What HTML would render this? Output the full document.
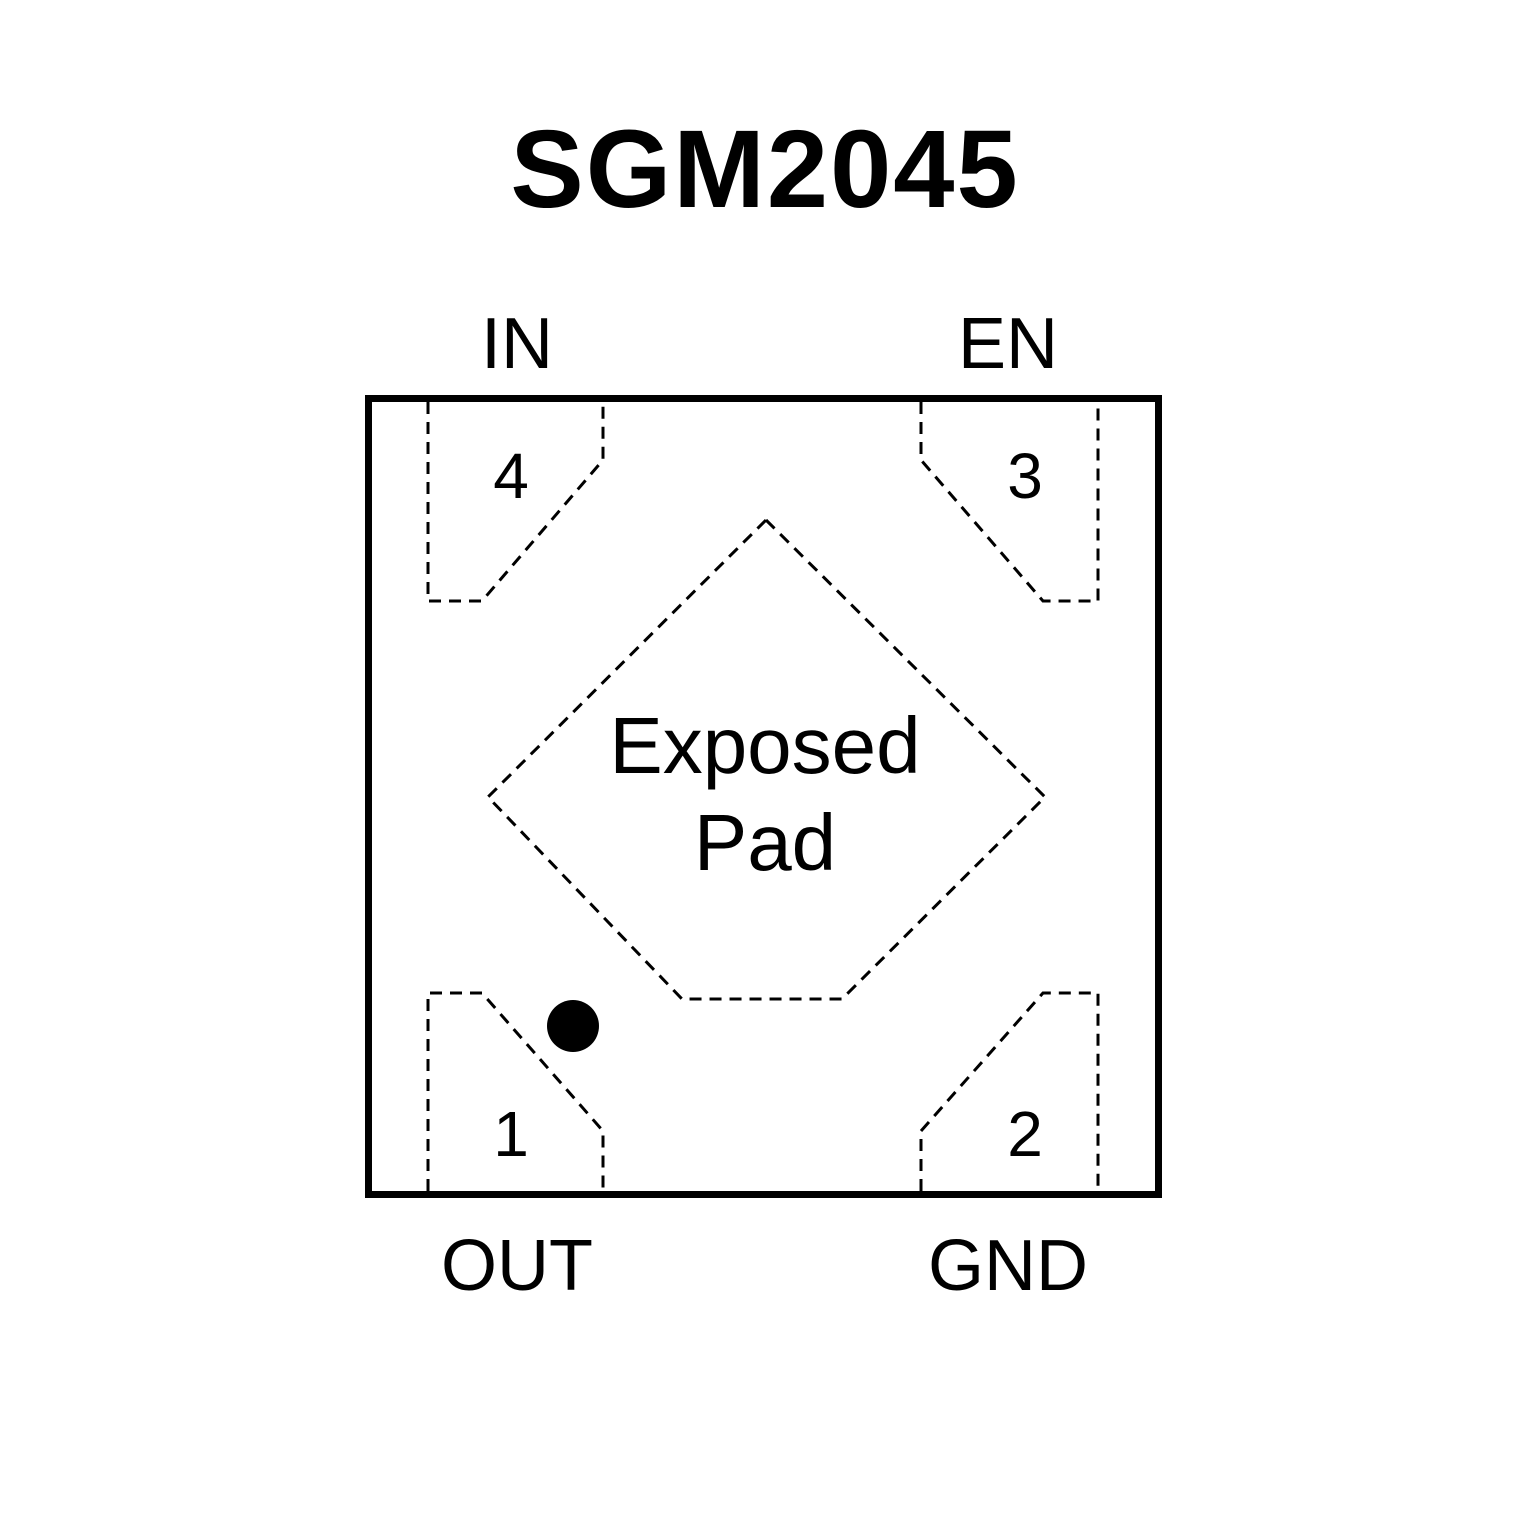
<!DOCTYPE html>
<html><head><meta charset="utf-8"><style>html,body{margin:0;padding:0;background:#fff}</style></head>
<body>
<svg width="1535" height="1535" viewBox="0 0 1535 1535" xmlns="http://www.w3.org/2000/svg">
<rect width="1535" height="1535" fill="#fff"/>
<text x="765" y="207" text-anchor="middle" font-family="Liberation Sans, sans-serif" font-weight="bold" font-size="110" letter-spacing="2">SGM2045</text>
<rect x="368.5" y="398.5" width="790" height="796" fill="none" stroke="#000" stroke-width="7"/>
<g fill="none" stroke="#000" stroke-width="3" stroke-dasharray="12,8">
<polyline points="428,402 428,601 482,601 603,460 603,402"/>
<polyline points="921,402 921,460 1043,601 1098,601 1098,402"/>
<polyline points="428,1191 428,993 482,993 603,1131 603,1191"/>
<polyline points="921,1191 921,1131 1043,993 1098,993 1098,1191"/>
<polygon points="766,520 1045,797 842,999 682,999 488,797"/>
</g>
<circle cx="573" cy="1026" r="26" fill="#000"/>
<g font-family="Liberation Sans, sans-serif" fill="#000">
<text x="517" y="368" font-size="72" text-anchor="middle">IN</text>
<text x="1008" y="368" font-size="72" text-anchor="middle">EN</text>
<text x="517" y="1290" font-size="72" text-anchor="middle">OUT</text>
<text x="1008" y="1290" font-size="72" text-anchor="middle">GND</text>
<text x="511" y="498" font-size="64" text-anchor="middle">4</text>
<text x="1025" y="498" font-size="64" text-anchor="middle">3</text>
<text x="511" y="1156" font-size="64" text-anchor="middle">1</text>
<text x="1025" y="1156" font-size="64" text-anchor="middle">2</text>
<text x="765" y="773" font-size="80" text-anchor="middle">Exposed</text>
<text x="765" y="870" font-size="80" text-anchor="middle">Pad</text>
</g>
</svg>
</body></html>
